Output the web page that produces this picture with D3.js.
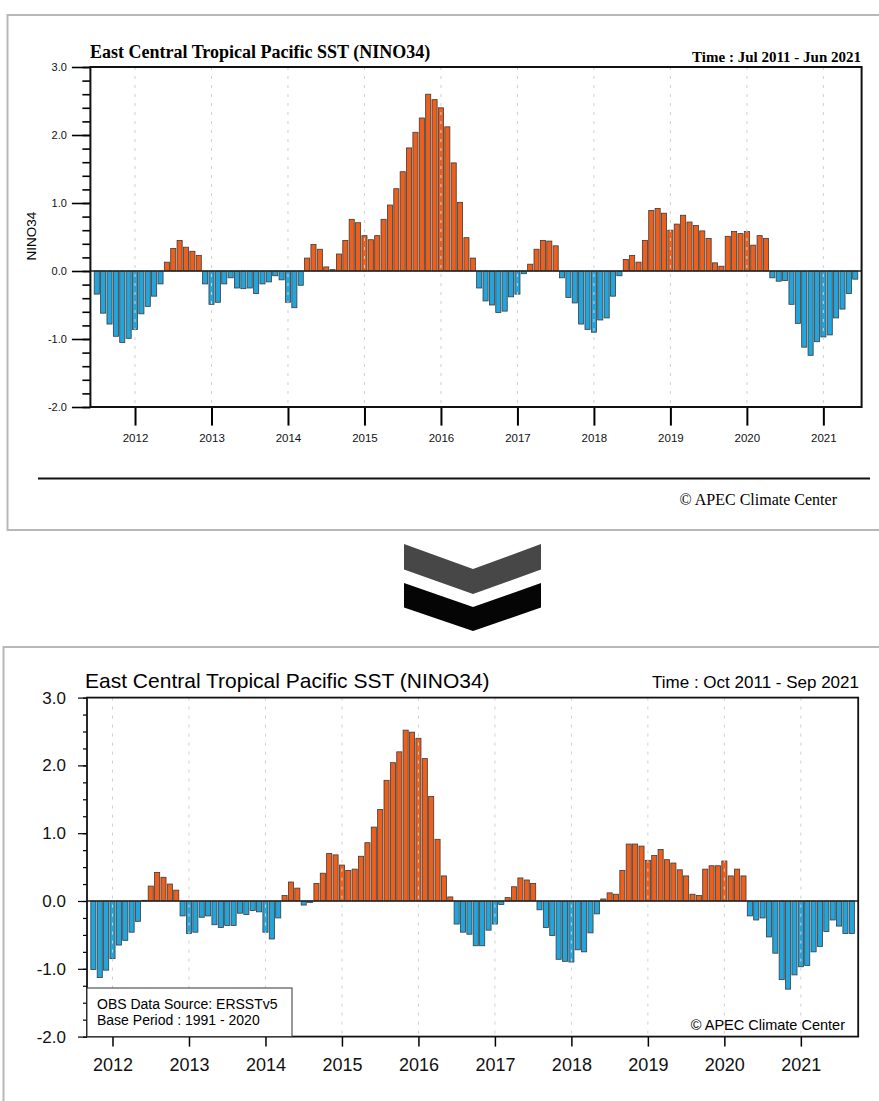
<!DOCTYPE html>
<html>
<head>
<meta charset="utf-8">
<script src="https://cdn.jsdelivr.net/npm/d3@7"></script>
<style>
  body { margin: 0; background: #fff; }
  svg { display: block; }
</style>
</head>
<body>
<svg id="chart" width="879" height="1101"></svg>
<script>
// NINO34 monthly anomalies, old product (Jul 2011 - Jun 2021)
let topStart = [2011, 6]   // year, month index (0 = Jan)
let topValues = [
  -0.34, -0.62, -0.78, -0.96, -1.05, -0.99, -0.86, -0.63, -0.52, -0.37, -0.19, 0.13,
  0.33, 0.45, 0.35, 0.29, 0.23, -0.19, -0.49, -0.46, -0.19, -0.10, -0.25, -0.26,
  -0.25, -0.33, -0.19, -0.16, -0.07, -0.13, -0.46, -0.54, -0.21, 0.19, 0.39, 0.32,
  0.06, 0.02, 0.25, 0.45, 0.76, 0.71, 0.52, 0.46, 0.52, 0.76, 0.97, 1.21,
  1.46, 1.81, 2.04, 2.25, 2.60, 2.52, 2.40, 2.12, 1.59, 1.01, 0.49, 0.19,
  -0.25, -0.44, -0.50, -0.61, -0.59, -0.38, -0.34, -0.04, 0.10, 0.32, 0.45, 0.44,
  0.37, -0.10, -0.39, -0.47, -0.78, -0.86, -0.90, -0.72, -0.69, -0.37, -0.07, 0.17,
  0.23, 0.13, 0.45, 0.89, 0.92, 0.85, 0.60, 0.69, 0.82, 0.72, 0.67, 0.59,
  0.48, 0.12, 0.07, 0.51, 0.58, 0.55, 0.58, 0.38, 0.52, 0.48, -0.10, -0.15,
  -0.14, -0.49, -0.77, -1.12, -1.24, -1.04, -0.97, -0.94, -0.69, -0.56, -0.33, -0.12
]

// NINO34 monthly anomalies, new product (Oct 2011 - Sep 2021)
let bottomStart = [2011, 9]
let bottomValues = [
  -1.01, -1.13, -1.02, -0.85, -0.65, -0.58, -0.46, -0.30, 0.01, 0.22, 0.42, 0.35,
  0.25, 0.16, -0.22, -0.48, -0.46, -0.24, -0.22, -0.35, -0.39, -0.36, -0.36, -0.18,
  -0.20, -0.14, -0.16, -0.46, -0.56, -0.25, 0.08, 0.28, 0.19, -0.06, -0.02, 0.26,
  0.41, 0.70, 0.68, 0.53, 0.45, 0.47, 0.66, 0.86, 1.09, 1.35, 1.78, 2.04,
  2.20, 2.52, 2.49, 2.40, 2.10, 1.54, 0.91, 0.37, 0.06, -0.34, -0.46, -0.49,
  -0.66, -0.66, -0.43, -0.34, -0.05, 0.05, 0.21, 0.34, 0.31, 0.26, -0.13, -0.39,
  -0.51, -0.86, -0.89, -0.90, -0.72, -0.75, -0.47, -0.19, 0.03, 0.12, 0.10, 0.45,
  0.84, 0.84, 0.81, 0.60, 0.67, 0.76, 0.61, 0.56, 0.46, 0.37, 0.10, 0.08,
  0.47, 0.52, 0.52, 0.59, 0.37, 0.47, 0.37, -0.22, -0.28, -0.25, -0.53, -0.77,
  -1.16, -1.30, -1.09, -0.97, -0.95, -0.75, -0.67, -0.45, -0.28, -0.37, -0.48, -0.48
]

let yearTicks = [2012, 2013, 2014, 2015, 2016, 2017, 2018, 2019, 2020, 2021]
let yTicks = [-2, -1, 0, 1, 2, 3]
let titleText = "East Central Tropical Pacific SST (NINO34)"
let topPeriod = "Time : Jul 2011 - Jun 2021"
let bottomPeriod = "Time : Oct 2011 - Sep 2021"
let credit = "\u00A9 APEC Climate Center"
let legendLines = ["OBS Data Source: ERSSTv5", "Base Period : 1991 - 2020"]

let posColor = "#ee5f1b"
let negColor = "#22a5dd"

let svg = d3.select("#chart")

// panel frames
svg.append("rect")
  .attr("x", 7.5).attr("y", 15).attr("width", 900).attr("height", 515)
  .style("fill", "none").style("stroke", "#b8b8b8").style("stroke-width", 2)

svg.append("rect")
  .attr("x", 3.5).attr("y", 647).attr("width", 900).attr("height", 500)
  .style("fill", "none").style("stroke", "#b8b8b8").style("stroke-width", 2)

// chevrons between the panels
svg.append("polygon")
  .attr("points", "404,544 473,569 541,544 541,569.5 473,594 404,569.5")
  .style("fill", "#474747")
svg.append("polygon")
  .attr("points", "404,583 473,607 541,583 541,607.5 473,631 404,607.5")
  .style("fill", "#050505")

function monthX(start, i) {
  return start[0] + (start[1] + i) / 12
}

function drawPanel(cfg, values, start) {
  let g = svg.append("g")

  let n = values.length
  let x = d3.scaleLinear()
    .domain([monthX(start, 0) - 1 / 12, monthX(start, n - 1) + 1 / 12])
    .range([cfg.left, cfg.right])

  let y = d3.scaleLinear()
    .domain([-2, 3])
    .range([cfg.bottom, cfg.top])

  let bw = (x(1) - x(0)) / 12 * 0.8

  // bars
  g.append("g")
    .selectAll("rect")
    .data(values)
    .enter()
    .append("rect")
      .attr("x", (d, i) => x(monthX(start, i)) - bw / 2)
      .attr("y", d => y(Math.max(0, d)))
      .attr("width", bw)
      .attr("height", d => Math.abs(y(d) - y(0)))
      .style("fill", d => d >= 0 ? posColor : negColor)
      .style("stroke", "#3a3a3a")
      .style("stroke-width", 0.8)

  // dashed year lines
  g.append("g")
    .selectAll("line")
    .data(yearTicks)
    .enter()
    .append("line")
      .attr("x1", d => x(d)).attr("x2", d => x(d))
      .attr("y1", cfg.top).attr("y2", cfg.bottom)
      .style("stroke", "#d0d0d0")
      .style("stroke-width", 1)
      .style("stroke-dasharray", "3,6")

  // zero line
  g.append("line")
    .attr("x1", cfg.left).attr("x2", cfg.right)
    .attr("y1", y(0)).attr("y2", y(0))
    .style("stroke", "#222")
    .style("stroke-width", 1.5)

  // minor y ticks
  g.append("g")
    .attr("transform", `translate(${cfg.left},0)`)
    .call(d3.axisLeft(y).tickValues(d3.range(-2, 3.001, cfg.minorStep)).tickSize(cfg.minorTick).tickFormat(""))
    .call(a => a.select(".domain").remove())
    .call(a => a.selectAll("line").style("stroke-width", cfg.tickWidth))

  // major y ticks
  let yAxis = g.append("g")
    .attr("transform", `translate(${cfg.left},0)`)
    .call(d3.axisLeft(y).tickValues(yTicks).tickSize(cfg.majorTick).tickPadding(cfg.yPad)
      .tickFormat(d => d.toFixed(1)))
  yAxis.select(".domain").remove()
  yAxis.selectAll("line").style("stroke-width", cfg.tickWidth)
  yAxis.selectAll("text")
    .style("font-family", "'Liberation Sans', Arial, sans-serif")
    .style("font-size", cfg.yFont + "px")
    .style("fill", "#111")

  // x axis
  let xAxis = g.append("g")
    .attr("transform", `translate(0,${cfg.bottom})`)
    .call(d3.axisBottom(x).tickValues(yearTicks).tickSize(cfg.xTick).tickPadding(cfg.xPad)
      .tickFormat(d3.format("d")))
  xAxis.select(".domain").remove()
  xAxis.selectAll("line").style("stroke-width", cfg.xTickWidth)
  xAxis.selectAll("text")
    .style("font-family", "'Liberation Sans', Arial, sans-serif")
    .style("font-size", cfg.xFont + "px")
    .style("fill", "#111")

  // plot frame
  g.append("rect")
    .attr("x", cfg.left).attr("y", cfg.top)
    .attr("width", cfg.right - cfg.left).attr("height", cfg.bottom - cfg.top)
    .style("fill", "none")
    .style("stroke", "#111")
    .style("stroke-width", cfg.frameWidth)

  return g
}

// ---- top (old) chart
let topCfg = {
  left: 90.4, right: 861.6, top: 67, bottom: 407,
  minorStep: 0.2, minorTick: 8, majorTick: 18.5, yPad: 5, tickWidth: 1.6,
  xTick: 18.6, xPad: 8, xTickWidth: 2,
  yFont: 11, xFont: 11.5, frameWidth: 2
}
let gTop = drawPanel(topCfg, topValues, topStart)

gTop.append("text")
  .attr("x", 90).attr("y", 58)
  .text(titleText)
  .style("font-family", "'Liberation Serif', 'Times New Roman', serif")
  .style("font-weight", "bold")
  .style("font-size", "18px")

gTop.append("text")
  .attr("text-anchor", "end")
  .attr("x", 861).attr("y", 62)
  .text(topPeriod)
  .style("font-family", "'Liberation Serif', 'Times New Roman', serif")
  .style("font-weight", "bold")
  .style("font-size", "15px")

gTop.append("text")
  .attr("transform", "translate(36,236) rotate(-90)")
  .attr("text-anchor", "middle")
  .text("NINO34")
  .style("font-family", "'Liberation Sans', Arial, sans-serif")
  .style("font-size", "13.5px")

gTop.append("line")
  .attr("x1", 38).attr("x2", 870)
  .attr("y1", 478.5).attr("y2", 478.5)
  .style("stroke", "#111")
  .style("stroke-width", 2)

gTop.append("text")
  .attr("text-anchor", "end")
  .attr("x", 837).attr("y", 505)
  .text(credit)
  .style("font-family", "'Liberation Serif', 'Times New Roman', serif")
  .style("font-size", "16px")

// ---- bottom (new) chart
let bottomCfg = {
  left: 87, right: 858.2, top: 697.6, bottom: 1036.6,
  minorStep: 0.25, minorTick: 4, majorTick: 9, yPad: 12, tickWidth: 1.2,
  xTick: 10, xPad: 12, xTickWidth: 1.5,
  yFont: 17, xFont: 18, frameWidth: 1.8
}
let gBottom = drawPanel(bottomCfg, bottomValues, bottomStart)

gBottom.append("text")
  .attr("x", 85).attr("y", 688)
  .text(titleText)
  .style("font-family", "'Liberation Sans', Arial, sans-serif")
  .style("font-size", "21px")

gBottom.append("text")
  .attr("text-anchor", "end")
  .attr("x", 859).attr("y", 688)
  .text(bottomPeriod)
  .style("font-family", "'Liberation Sans', Arial, sans-serif")
  .style("font-size", "17px")

let legend = gBottom.append("g")
legend.append("rect")
  .attr("x", 87).attr("y", 988)
  .attr("width", 205).attr("height", 48.6)
  .style("fill", "#fff")
  .style("stroke", "#333")
  .style("stroke-width", 1)
legend.selectAll("text")
  .data(legendLines)
  .enter()
  .append("text")
    .attr("x", 97)
    .attr("y", (d, i) => 1009 + i * 16)
    .text(d => d)
    .style("font-family", "'Liberation Sans', Arial, sans-serif")
    .style("font-size", "14px")

gBottom.append("text")
  .attr("text-anchor", "end")
  .attr("x", 845).attr("y", 1030)
  .text(credit)
  .style("font-family", "'Liberation Sans', Arial, sans-serif")
  .style("font-size", "14.5px")
</script>
</body>
</html>
